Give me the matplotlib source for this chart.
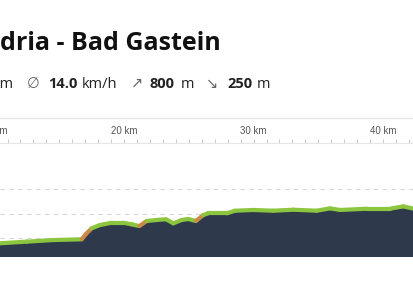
# coding: utf-8
"""Elevation profile of a bike route (cropped view)."""

import matplotlib
matplotlib.use("Agg")
import matplotlib.pyplot as plt
import numpy as np
from matplotlib.collections import LineCollection
from matplotlib.lines import Line2D

# distance along route [km] and elevation [m]
distance = [10.42, 12.48, 14.51, 16.73, 17.06, 17.50, 18.14, 19.05, 19.92,
            20.59, 21.18, 21.75, 22.52, 23.24, 23.80, 24.45, 24.96, 25.55,
            26.12, 26.50, 27.93, 28.57, 29.98, 31.52, 33.07, 34.88, 35.90,
            36.68, 38.74, 40.54, 41.56, 42.39]
elevation = [560, 573, 586, 592, 635, 681, 707, 726, 726,
             713, 699, 740, 748, 754, 721, 748, 756, 740,
             788, 802, 802, 823, 829, 823, 831, 823, 842,
             829, 839, 839, 858, 839]

km_ticks = [10, 20, 30, 40]
km_labels = [f"{k} km" for k in km_ticks]
grid_levels = [600, 800, 1000]

title = "dria - Bad Gastein"
stats = [("km", "normal"), ("\u2205", "sym"), ("14.0", "bold"), ("km/h", "normal"),
         ("\u2197", "sym"), ("800", "bold"), ("m", "normal"),
         ("\u2198", "sym"), ("250", "bold"), ("m", "normal")]
stats_x = [-7, 27, 48, 82, 131, 150, 181, 206, 227, 257]  # left edge, px

W, H = 414, 286
FILL = "#2e3a4c"
GREEN = "#8cc63f"
ORANGE = "#c98a45"
TICK_LEN, TICK_PAD = 3, 2

fig = plt.figure(figsize=(W / 100, H / 100), dpi=100)
fam = ["Open Sans", "DejaVu Sans"]

fig.text(0 / W, 1 - 50 / H, title, fontsize=18, fontweight="bold",
         family=fam, color="#111111", ha="left", va="baseline")
for (txt, kind), px in zip(stats, stats_x):
    fig.text(px / W, 1 - 88 / H, txt, fontsize=10.5, family=fam,
             fontweight="bold" if kind == "bold" else "normal",
             color="#666666" if kind == "sym" else "#222222",
             ha="left", va="baseline")

fig.add_artist(Line2D([0, 1], [1 - 118 / H, 1 - 118 / H],
                      transform=fig.transFigure, color="#e6e6e6", lw=1))

ax = fig.add_axes([0, (H - 257) / H, 1, (257 - 143) / H])

for lvl in grid_levels:
    ax.axhline(lvl, color="#d8d8d8", lw=0.8, ls=(0, (4, 4)), zorder=0)

ax.fill_between(distance, elevation, 449, color=FILL, lw=0, zorder=1)

x = np.array(distance)
y = np.array(elevation)
slope = np.diff(y) / np.diff(x)
seg = np.stack([np.column_stack([x[:-1], y[:-1]]),
                np.column_stack([x[1:], y[1:]])], axis=1)
cols = [ORANGE if s > 60 else GREEN for s in slope]
lc = LineCollection(seg, colors=cols, linewidths=3, capstyle="round",
                    joinstyle="round", zorder=2)
ax.add_collection(lc, autolim=False)

for side in ["left", "right", "bottom"]:
    ax.spines[side].set_visible(False)
ax.spines["top"].set_color("#e6e6e6")
ax.spines["top"].set_linewidth(0.8)
ax.set_yticks([])
ax.xaxis.set_ticks_position("top")
ax.set_xticks(km_ticks)
ax.set_xticklabels(km_labels, family="Liberation Sans", fontsize=7, color="#555555")
ax.set_xticks(np.arange(10, 43, 1), minor=True)
ax.tick_params(axis="x", which="both", direction="out", length=TICK_LEN,
               color="#cccccc", width=0.8, pad=TICK_PAD)

# limits last, so the tick setters cannot widen them
ax.set_xlim(distance[0], distance[-1])
ax.set_ylim(449, 1370)

# labels whose tick falls just left of the visible range
for k, lab in zip(km_ticks, km_labels):
    if k < distance[0]:
        ax.annotate(lab, xy=(k, 1), xycoords=("data", "axes fraction"),
                    xytext=(0, TICK_LEN + TICK_PAD), textcoords="offset points",
                    ha="center", va="bottom", family="Liberation Sans",
                    fontsize=7, color="#555555", annotation_clip=False)

fig.savefig("out.png", dpi=100)
